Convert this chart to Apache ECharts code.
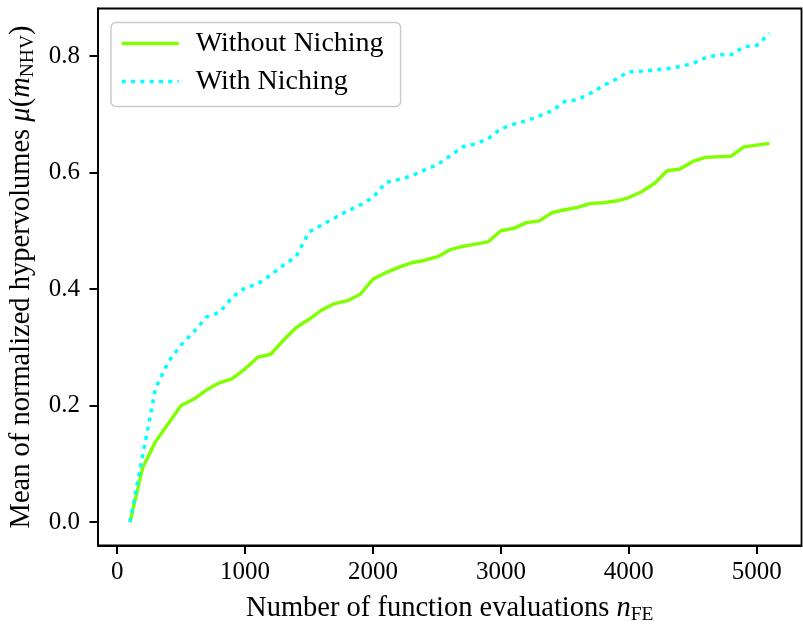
<!DOCTYPE html>
<html>
<head>
<meta charset="utf-8">
<script src="https://cdn.jsdelivr.net/npm/echarts@6/dist/echarts.min.js"></script>
<style>
  html, body { margin: 0; padding: 0; background: #fff; }
  #chart { width: 803px; height: 624px; }
</style>
</head>
<body>
<div id="chart"></div>
<script>
// Number of function evaluations at which the hypervolume was recorded
const evaluations = [100, 200, 300, 400, 500, 600, 700, 800, 900, 1000,
  1100, 1200, 1300, 1400, 1500, 1600, 1700, 1800, 1900, 2000,
  2100, 2200, 2300, 2400, 2500, 2600, 2700, 2800, 2900, 3000,
  3100, 3200, 3300, 3400, 3500, 3600, 3700, 3800, 3900, 4000,
  4100, 4200, 4300, 4400, 4500, 4600, 4700, 4800, 4900, 5000, 5100];

// Mean normalized hypervolume, run without niching
const withoutNiching = [0.000, 0.094, 0.138, 0.169, 0.200, 0.211, 0.227, 0.239, 0.246, 0.263,
  0.283, 0.288, 0.312, 0.334, 0.348, 0.364, 0.375, 0.380, 0.391, 0.417,
  0.428, 0.437, 0.445, 0.449, 0.455, 0.467, 0.473, 0.477, 0.481, 0.500,
  0.504, 0.514, 0.517, 0.531, 0.536, 0.540, 0.547, 0.548, 0.551, 0.557,
  0.567, 0.581, 0.603, 0.606, 0.619, 0.626, 0.627, 0.628, 0.644, 0.647, 0.650];

// Mean normalized hypervolume, run with niching
const withNiching = [0.000, 0.115, 0.230, 0.275, 0.304, 0.327, 0.352, 0.360, 0.386, 0.402,
  0.409, 0.424, 0.441, 0.456, 0.498, 0.510, 0.522, 0.534, 0.544, 0.557,
  0.583, 0.588, 0.594, 0.604, 0.613, 0.628, 0.644, 0.649, 0.658, 0.675,
  0.683, 0.689, 0.697, 0.706, 0.722, 0.725, 0.736, 0.749, 0.760, 0.773,
  0.774, 0.776, 0.778, 0.782, 0.787, 0.797, 0.802, 0.802, 0.816, 0.818, 0.839];

const xTicks = [0, 1000, 2000, 3000, 4000, 5000];
const yTicks = [0.0, 0.2, 0.4, 0.6, 0.8];

const seriesNames = ['Without Niching', 'With Niching'];

const FONT = 'Liberation Serif';
const FS = 25;        // tick labels
const FS_NAME = 28.5; // axis titles
const FS_LEG = 28;    // legend entries
const GREEN = '#7FFF00';
const CYAN = '#00FFFF';
const CYAN_DASH = [4, 5.3];

const pairs = (ys) => evaluations.map((x, i) => [x, ys[i]]);

const nameRich = {
  t: { fontFamily: FONT, fontSize: FS_NAME, color: '#000', lineHeight: 32 },
  i: { fontFamily: FONT, fontSize: FS_NAME, fontStyle: 'italic', color: '#000', lineHeight: 32 },
  s: { fontFamily: FONT, fontSize: 19.5, color: '#000', lineHeight: 19, verticalAlign: 'bottom' }
};

const chart = echarts.init(document.getElementById('chart'), null, { renderer: 'canvas' });

chart.setOption({
  animation: false,
  backgroundColor: '#ffffff',
  grid: {
    left: 98, right: 1.5, top: 8.5, bottom: 78.5,
    containLabel: false,
    outerBoundsMode: 'none',
    show: true, borderColor: '#000', borderWidth: 1.8,
    backgroundColor: 'transparent'
  },
  xAxis: {
    type: 'value',
    min: -150, max: 5350,
    axisLine: { show: true, onZero: false, lineStyle: { color: '#000', width: 1.8 } },
    axisTick: { show: true, inside: false, length: 8.5, customValues: xTicks,
      lineStyle: { color: '#000', width: 2 } },
    axisLabel: { customValues: xTicks, margin: 14, color: '#000',
      fontFamily: FONT, fontSize: FS, formatter: (v) => String(v) },
    splitLine: { show: false },
    name: '{t|Number of function evaluations }{i|n}{s|FE}',
    nameLocation: 'middle',
    nameGap: 47,
    nameTextStyle: { color: '#000', rich: nameRich }
  },
  yAxis: {
    type: 'value',
    min: -0.0403, max: 0.8815,
    axisLine: { show: true, onZero: false, lineStyle: { color: '#000', width: 1.8 } },
    axisTick: { show: true, inside: false, length: 8.5, customValues: yTicks,
      lineStyle: { color: '#000', width: 2 } },
    axisLabel: { customValues: yTicks, margin: 18, color: '#000',
      fontFamily: FONT, fontSize: FS, formatter: (v) => v.toFixed(1) },
    splitLine: { show: false },
    name: '{t|Mean of normalized hypervolumes }{i|\u03bc}{t|(}{i|m}{s|NHV}{t|)}',
    nameLocation: 'middle',
    nameRotate: 90,
    nameGap: 60,
    nameTextStyle: { color: '#000', rich: nameRich }
  },
  legend: {
    data: [
      { name: seriesNames[0], itemStyle: { opacity: 0 },
        lineStyle: { color: GREEN, width: 3.4 } },
      { name: seriesNames[1], itemStyle: { opacity: 0 },
        lineStyle: { color: CYAN, width: 3.5, type: CYAN_DASH } }
    ],
    orient: 'vertical',
    left: 111, top: 22.5,
    itemWidth: 57, itemHeight: 14, itemGap: 8,
    padding: [6, 17, 10, 9],
    backgroundColor: 'rgba(255,255,255,0.8)',
    borderColor: '#cccccc', borderWidth: 1.5, borderRadius: 5,
    textStyle: { fontFamily: FONT, fontSize: FS_LEG, color: '#000', padding: [0, 0, 0, 12], lineHeight: 30 }
  },
  series: [
    {
      name: seriesNames[0],
      type: 'line',
      data: pairs(withoutNiching),
      symbol: 'none', showSymbol: false,
      itemStyle: { color: GREEN },
      lineStyle: { color: GREEN, width: 3.4, join: 'round' },
      z: 2
    },
    {
      name: seriesNames[1],
      type: 'line',
      data: pairs(withNiching),
      symbol: 'none', showSymbol: false,
      itemStyle: { color: CYAN },
      lineStyle: { color: CYAN, width: 3.5, type: CYAN_DASH },
      z: 3
    }
  ]
});
</script>
</body>
</html>
